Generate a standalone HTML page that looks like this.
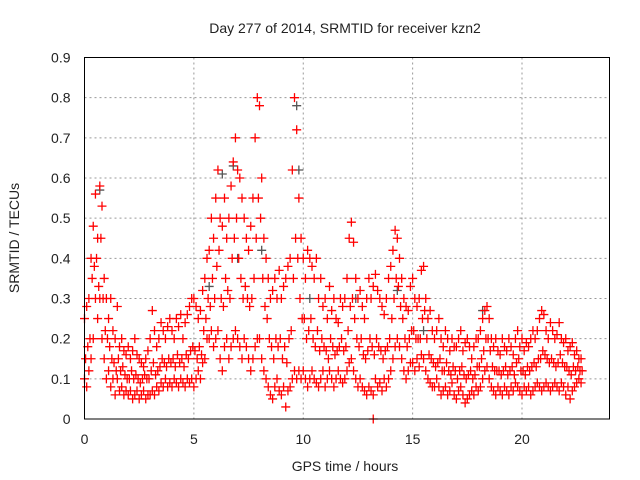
<!DOCTYPE html>
<html><head><meta charset="utf-8"><style>
body{margin:0;background:#fff;}
svg{display:block;font-family:"Liberation Sans",sans-serif;}
</style></head><body>
<svg id="chart" width="640" height="480" viewBox="0 0 640 480">
<rect width="640" height="480" fill="#fff"/>
<text x="345" y="33" font-size="14" text-anchor="middle" fill="#222">Day 277 of 2014, SRMTID for receiver kzn2</text>
<g id="grid"></g>
<g id="ticks" font-size="14" fill="#222"></g>
<g id="marks"></g>
<rect x="84.5" y="57.5" width="525" height="361.5" fill="none" stroke="#000" stroke-width="1"/>
<text transform="translate(19,238) rotate(-90)" font-size="14" text-anchor="middle" fill="#222">SRMTID / TECUs</text>
<text x="345" y="471" font-size="14" text-anchor="middle" fill="#222">GPS time / hours</text>
</svg>
<script>
const times=[0,0.1,0.2,0.3,0.4,0.5,0.6,0.7,0.8,0.9,1,1.1,1.2,1.3,1.4,1.5,1.6,1.7,1.8,1.9,2,2.1,2.2,2.3,2.4,2.5,2.6,2.7,2.8,2.9,3,3.1,3.2,3.3,3.4,3.5,3.6,3.7,3.8,3.9,4,4.1,4.2,4.3,4.4,4.5,4.6,4.7,4.8,4.9,5,5.1,5.2,5.3,5.4,5.5,5.6,5.7,5.8,5.9,6,6.1,6.2,6.3,6.4,6.5,6.6,6.7,6.8,6.9,7,7.1,7.2,7.3,7.4,7.5,7.6,7.7,7.8,7.9,8,8.1,8.2,8.3,8.4,8.5,8.6,8.7,8.8,8.9,9,9.1,9.2,9.3,9.4,9.5,9.6,9.7,9.8,9.9,10,10.1,10.2,10.3,10.4,10.5,10.6,10.7,10.8,10.9,11,11.1,11.2,11.3,11.4,11.5,11.6,11.7,11.8,11.9,12,12.1,12.2,12.3,12.4,12.5,12.6,12.7,12.8,12.9,13,13.1,13.2,13.3,13.4,13.5,13.6,13.7,13.8,13.9,14,14.1,14.2,14.3,14.4,14.5,14.6,14.7,14.8,14.9,15,15.1,15.2,15.3,15.4,15.5,15.6,15.7,15.8,15.9,16,16.1,16.2,16.3,16.4,16.5,16.6,16.7,16.8,16.9,17,17.1,17.2,17.3,17.4,17.5,17.6,17.7,17.8,17.9,18,18.1,18.2,18.3,18.4,18.5,18.6,18.7,18.8,18.9,19,19.1,19.2,19.3,19.4,19.5,19.6,19.7,19.8,19.9,20,20.1,20.2,20.3,20.4,20.5,20.6,20.7,20.8,20.9,21,21.1,21.2,21.3,21.4,21.5,21.6,21.7,21.8,21.9,22,22.1,22.2,22.3,22.4,22.5,22.6,22.7];
const hiVals=[0.25,0.28,0.3,0.4,0.48,0.56,0.45,0.58,0.53,0.35,0.3,0.25,0.3,0.22,0.2,0.28,0.18,0.2,0.17,0.16,0.18,0.15,0.17,0.2,0.16,0.15,0.14,0.13,0.15,0.17,0.2,0.27,0.22,0.18,0.2,0.24,0.22,0.2,0.23,0.25,0.22,0.2,0.25,0.23,0.26,0.2,0.24,0.26,0.28,0.3,0.3,0.28,0.25,0.27,0.32,0.35,0.4,0.42,0.5,0.45,0.55,0.62,0.5,0.48,0.55,0.45,0.5,0.58,0.64,0.7,0.62,0.6,0.55,0.5,0.45,0.42,0.48,0.55,0.7,0.8,0.78,0.6,0.45,0.4,0.35,0.3,0.32,0.35,0.3,0.37,0.3,0.33,0.35,0.38,0.4,0.62,0.8,0.72,0.55,0.45,0.4,0.35,0.42,0.4,0.38,0.35,0.4,0.3,0.35,0.28,0.3,0.25,0.33,0.27,0.3,0.25,0.24,0.3,0.28,0.3,0.35,0.45,0.49,0.44,0.35,0.3,0.32,0.28,0.25,0.3,0.35,0.3,0.33,0.36,0.32,0.3,0.28,0.26,0.3,0.35,0.38,0.42,0.47,0.45,0.4,0.35,0.3,0.28,0.27,0.33,0.35,0.3,0.28,0.3,0.37,0.38,0.3,0.25,0.27,0.22,0.2,0.22,0.25,0.2,0.18,0.22,0.2,0.17,0.2,0.18,0.18,0.2,0.22,0.17,0.19,0.2,0.18,0.15,0.18,0.2,0.2,0.22,0.25,0.27,0.28,0.25,0.2,0.18,0.2,0.17,0.16,0.2,0.18,0.17,0.2,0.18,0.16,0.2,0.22,0.18,0.2,0.17,0.19,0.18,0.2,0.22,0.2,0.22,0.25,0.27,0.26,0.22,0.2,0.24,0.22,0.2,0.21,0.24,0.2,0.19,0.2,0.17,0.18,0.19,0.16,0.17,0.15,0.15];
const midVals=[0.15,0.18,0.2,0.35,0.38,0.4,0.33,0.45,0.3,0.22,0.2,0.18,0.15,0.14,0.12,0.15,0.12,0.13,0.11,0.1,0.1,0.12,0.1,0.11,0.1,0.09,0.1,0.11,0.1,0.1,0.12,0.14,0.11,0.12,0.13,0.15,0.14,0.13,0.15,0.14,0.15,0.13,0.16,0.14,0.15,0.13,0.16,0.15,0.17,0.18,0.17,0.15,0.18,0.16,0.22,0.25,0.3,0.28,0.35,0.3,0.38,0.42,0.3,0.28,0.35,0.32,0.3,0.4,0.45,0.5,0.4,0.35,0.3,0.33,0.3,0.28,0.3,0.35,0.45,0.55,0.5,0.35,0.28,0.25,0.2,0.18,0.15,0.2,0.18,0.2,0.15,0.18,0.14,0.2,0.22,0.35,0.45,0.4,0.3,0.25,0.25,0.2,0.22,0.25,0.2,0.18,0.22,0.17,0.2,0.18,0.17,0.15,0.2,0.18,0.16,0.17,0.18,0.2,0.17,0.18,0.22,0.28,0.3,0.25,0.2,0.18,0.2,0.16,0.15,0.17,0.2,0.18,0.16,0.2,0.18,0.17,0.15,0.17,0.18,0.2,0.25,0.3,0.35,0.33,0.28,0.25,0.2,0.18,0.2,0.22,0.22,0.2,0.2,0.2,0.25,0.27,0.2,0.16,0.15,0.14,0.13,0.14,0.15,0.12,0.12,0.14,0.12,0.11,0.13,0.12,0.1,0.12,0.13,0.11,0.1,0.11,0.12,0.1,0.11,0.13,0.13,0.15,0.17,0.2,0.2,0.17,0.13,0.12,0.12,0.12,0.11,0.12,0.13,0.11,0.12,0.13,0.11,0.14,0.15,0.12,0.12,0.11,0.13,0.12,0.13,0.14,0.13,0.15,0.15,0.17,0.16,0.15,0.14,0.15,0.14,0.13,0.14,0.16,0.14,0.13,0.13,0.12,0.11,0.13,0.12,0.13,0.12,0.12];
const loVals=[0.1,0.08,0.12,0.15,0.2,0.3,0.25,0.3,0.2,0.15,0.1,0.12,0.08,0.1,0.06,0.1,0.07,0.08,0.06,0.07,0.06,0.07,0.05,0.06,0.07,0.05,0.06,0.07,0.05,0.06,0.06,0.07,0.06,0.08,0.07,0.09,0.08,0.1,0.08,0.09,0.08,0.1,0.09,0.08,0.1,0.09,0.08,0.1,0.09,0.1,0.08,0.1,0.12,0.1,0.14,0.15,0.2,0.2,0.22,0.18,0.2,0.22,0.15,0.12,0.18,0.2,0.15,0.18,0.2,0.22,0.2,0.18,0.15,0.2,0.18,0.15,0.12,0.15,0.18,0.2,0.2,0.15,0.12,0.1,0.08,0.06,0.05,0.08,0.1,0.07,0.06,0.08,0.03,0.07,0.08,0.1,0.12,0.1,0.12,0.1,0.12,0.1,0.08,0.1,0.12,0.1,0.09,0.08,0.1,0.12,0.08,0.1,0.12,0.1,0.08,0.1,0.12,0.1,0.09,0.1,0.12,0.14,0.15,0.12,0.1,0.08,0.1,0.08,0.07,0.06,0.08,0.07,0.06,0.1,0.08,0.09,0.07,0.1,0.08,0.1,0.12,0.15,0.18,0.2,0.18,0.15,0.12,0.1,0.12,0.14,0.14,0.12,0.15,0.13,0.16,0.15,0.12,0.1,0.09,0.08,0.08,0.1,0.08,0.06,0.07,0.08,0.06,0.07,0.09,0.06,0.05,0.07,0.08,0.06,0.04,0.05,0.06,0.07,0.06,0.08,0.07,0.08,0.1,0.12,0.13,0.1,0.08,0.07,0.06,0.08,0.07,0.06,0.08,0.07,0.06,0.08,0.07,0.09,0.08,0.07,0.06,0.08,0.07,0.08,0.06,0.07,0.08,0.09,0.08,0.07,0.08,0.09,0.08,0.07,0.08,0.09,0.08,0.07,0.09,0.08,0.06,0.08,0.05,0.07,0.08,0.09,0.1,0.09];
const grayTimes=[0.7,5.7,6.3,6.8,7.0,8.1,9.7,9.8,10.3,12.4,14.3,15.5,18.2];
const grayVals=[0.57,0.33,0.61,0.63,0.4,0.42,0.78,0.62,0.3,0.3,0.32,0.22,0.27];
const extraTimes=[13.2];
const extraVals=[0.0];
const xTicks=[0,5,10,15,20];
const yTicks=[0,0.1,0.2,0.3,0.4,0.5,0.6,0.7,0.8,0.9];

const NS="http://www.w3.org/2000/svg";
const L=84.5,R=609.5,T=57.5,B=419;
const xS=v=>L+(v/24)*(R-L);
const yS=v=>B-(v/0.9)*(B-T);
const grid=document.getElementById('grid'),ticks=document.getElementById('ticks'),marks=document.getElementById('marks');
function mk(tag,attrs,parent){const e=document.createElementNS(NS,tag);for(const k in attrs)e.setAttribute(k,attrs[k]);parent.appendChild(e);return e;}
xTicks.forEach(v=>{
  const x=xS(v);
  if(v>0){const g=mk('line',{x1:x,x2:x,y1:T,y2:B,stroke:'#999','stroke-dasharray':'2,3'},grid);
  
  }
  const t=mk('text',{x:x,y:B+25,'text-anchor':'middle'},ticks);t.textContent=String(v);
  
  
});
yTicks.forEach(v=>{
  const y=yS(v);
  if(v>0&&v<0.9){const g=mk('line',{x1:L,x2:R,y1:y,y2:y,stroke:'#999','stroke-dasharray':'2,3'},grid);
  
  }
  const t=mk('text',{x:L-14,y:y+5,'text-anchor':'end'},ticks);t.textContent=v===0?'0':v.toFixed(1);
  
  
});
function plus(t,v,color){
  const x=xS(t),y=yS(v);
  const p=mk('path',{d:`M${x-4.5},${y}H${x+4.5}M${x},${y-4.5}V${y+4.5}`,stroke:color,'stroke-width':1.3,fill:'none'},marks);
  
  
}
grayTimes.forEach((t,i)=>plus(t,grayVals[i],'#555'));
times.forEach((t,i)=>{plus(t,hiVals[i],'#f00');plus(t+0.05,midVals[i],'#f00');plus(t,loVals[i],'#f00');});
extraTimes.forEach((t,i)=>plus(t,extraVals[i],'#f00'));
</script>
</body></html>
